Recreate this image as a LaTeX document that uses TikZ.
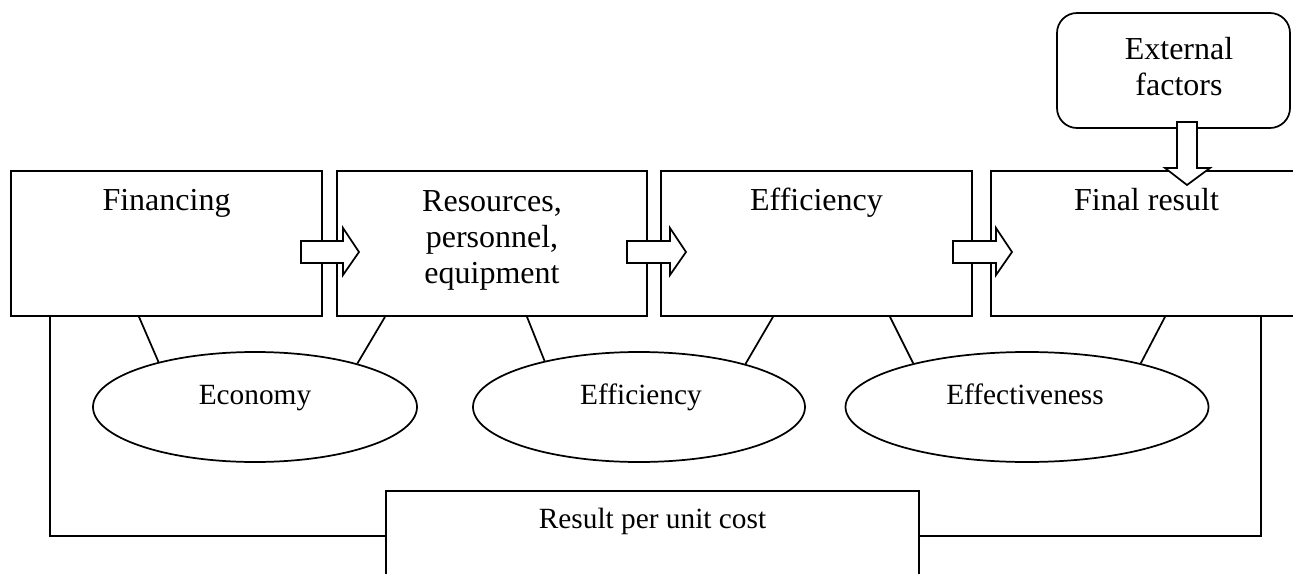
\documentclass[tikz,border=0pt]{standalone}
\usepackage{fontspec}
\setmainfont{Liberation Serif}
\usetikzlibrary{shapes.geometric,calc}

\begin{document}
\begin{tikzpicture}[x=0.75pt,y=0.75pt,yscale=-1,xscale=1,
  every path/.style={line width=1.3pt},
  procbox/.style={draw, rectangle, inner sep=0pt, minimum width=233.25pt, minimum height=108.75pt},
  oval/.style={draw, ellipse, inner sep=0pt, minimum height=82.5pt},
  blockarr/.style={draw, fill=white, line width=1.3pt},
  bigtxt/.style={inner sep=0pt, font=\fontsize{24}{27}\selectfont, align=center},
  smalltxt/.style={inner sep=0pt, font=\fontsize{22}{26}\selectfont}]
\useasboundingbox (0,0) rectangle (1293,574);

%Boxes of the chain
\node [procbox] (fin) at (166.5,243.5) {};
\node [procbox, minimum width=232.5pt] (res) at (492,243.5) {};
\node [procbox] (eff) at (816.5,243.5) {};
\node [procbox] (finres) at (1146.5,243.5) {};
%External factors box
\node [draw, rectangle, rounded corners=15pt, inner sep=0pt, minimum width=174.75pt, minimum height=86.25pt] (ext) at (1173.5,70.5) {};
%Result per unit cost box
\node [draw, rectangle, inner sep=0pt, minimum width=399.75pt, minimum height=89.25pt] (cost) at (652.5,550.5) {};

%Ellipses
\node [oval, minimum width=243pt] (eco) at (255,407) {};
\node [oval, minimum width=249pt] (effel) at (639,407) {};
\node [oval, minimum width=272.25pt] (effv) at (1027,407) {};

% Text Nodes
\node [bigtxt, anchor=base] (fintxt) at (166.5,211) {Financing};
\node [bigtxt, anchor=north] (restxt) at (492,190) {Resources,\\personnel,\\equipment};
\node [bigtxt, anchor=base] (efftxt) at (816.5,211) {Efficiency};
\node [bigtxt, anchor=base] (finrestxt) at (1146.5,211) {Final result};
\node [bigtxt, anchor=north] (exttxt) at (1179,36) {External\\factors};
\node [smalltxt, anchor=base] (ecotxt) at (255,404) {Economy};
\node [smalltxt, anchor=base] (effeltxt) at (641,404) {Efficiency};
\node [smalltxt, anchor=base] (effvtxt) at (1025,404) {Effectiveness};
\node [smalltxt, anchor=base] (costtxt) at (652.5,528) {Result per unit cost};

%Links boxes - ellipses
\draw ($(fin.south)+(-27.5,0)$) -- (eco.155.6);
\draw ($(res.south)+(-107,0)$) -- (eco.23.4);
\draw ($(res.south)+(35,0)$) -- (effel.154.6);
\draw ($(eff.south)+(-43.5,0)$) -- (effel.22.6);
\draw ($(eff.south)+(73.5,0)$) -- (effv.159.6);
\draw ($(finres.south)+(18.5,0)$) -- (effv.21.9);

%Links to result per unit cost
\draw ($(fin.south west)+(40,0)$) |- ($(cost.north west)+(0,46)$);
\draw ($(finres.south west)+(271,0)$) |- ($(cost.north east)+(0,46)$);

%Block arrows
\draw [blockarr] (301,241) -- (343,241) -- (343,228) -- (359,252) -- (343,275) -- (343,263) -- (301,263) -- cycle;
\draw [blockarr] (627,241) -- (670,241) -- (670,228) -- (686,252) -- (670,275) -- (670,263) -- (627,263) -- cycle;
\draw [blockarr] (953,241) -- (996,241) -- (996,228) -- (1012,252) -- (996,275) -- (996,263) -- (953,263) -- cycle;
\draw [blockarr] (1177,122) -- (1197,122) -- (1197,168) -- (1210,168) -- (1187,185) -- (1165,168) -- (1177,168) -- cycle;

\end{tikzpicture}
\end{document}
